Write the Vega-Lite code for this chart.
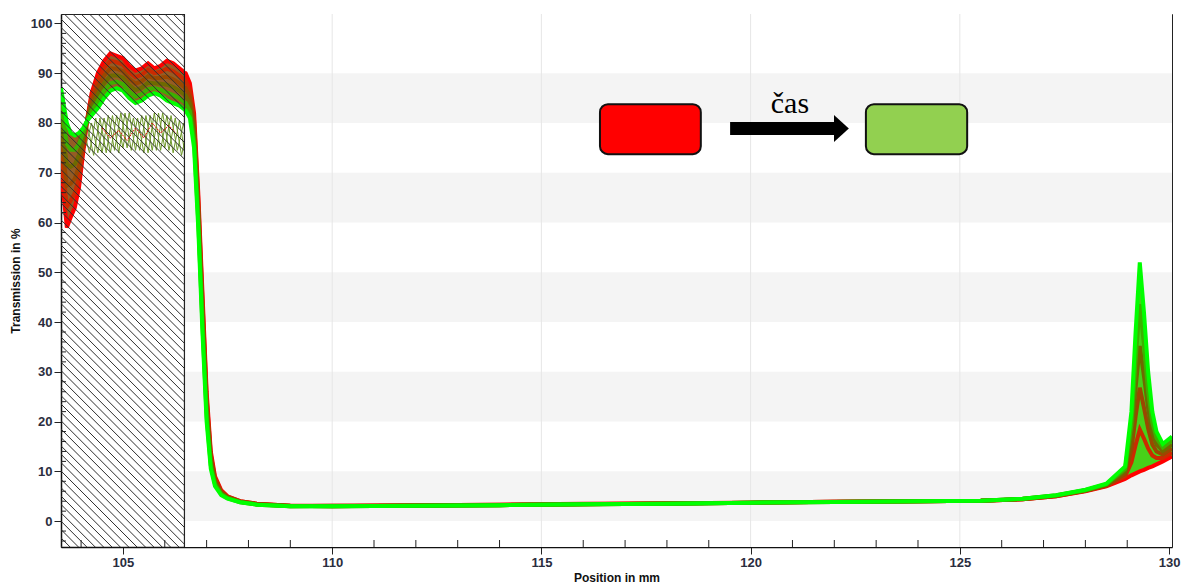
{
  "$schema": "https://vega.github.io/schema/vega-lite/v6.json",
  "width": 1111,
  "height": 533,
  "autosize": {"type": "none"},
  "padding": {"left": 61, "top": 14, "right": 10, "bottom": 38},
  "background": "white",
  "config": {"view": {"stroke": "#222", "strokeWidth": 1}},
  "datasets": {
    "curves": [
      {"x":103.52,"a0":70,"a1":73.4,"a2":76.8,"a3":80.2,"a4":83.6,"a5":87},
      {"x":103.6,"a0":64,"a1":67.8,"a2":71.6,"a3":75.4,"a4":79.2,"a5":83},
      {"x":103.66,"a0":59,"a1":63.2,"a2":67.4,"a3":71.6,"a4":75.8,"a5":80},
      {"x":103.75,"a0":61,"a1":64.4,"a2":67.8,"a3":71.2,"a4":74.6,"a5":78},
      {"x":103.85,"a0":63,"a1":65.9,"a2":68.8,"a3":71.7,"a4":74.6,"a5":77.5},
      {"x":103.95,"a0":67,"a1":69.2,"a2":71.4,"a3":73.6,"a4":75.8,"a5":78},
      {"x":104.05,"a0":74,"a1":75,"a2":76,"a3":77,"a4":78,"a5":79},
      {"x":104.15,"a0":81,"a1":80.9,"a2":80.8,"a3":80.7,"a4":80.6,"a5":80.5},
      {"x":104.25,"a0":86,"a1":85.1,"a2":84.2,"a3":83.3,"a4":82.4,"a5":81.5},
      {"x":104.4,"a0":90,"a1":88.6,"a2":87.2,"a3":85.8,"a4":84.4,"a5":83},
      {"x":104.55,"a0":92.5,"a1":91,"a2":89.5,"a3":88,"a4":86.5,"a5":85},
      {"x":104.7,"a0":94,"a1":92.5,"a2":91,"a3":89.5,"a4":88,"a5":86.5},
      {"x":104.85,"a0":93.5,"a1":92.2,"a2":90.9,"a3":89.6,"a4":88.3,"a5":87},
      {"x":105.0,"a0":93,"a1":91.7,"a2":90.4,"a3":89.1,"a4":87.8,"a5":86.5},
      {"x":105.15,"a0":91.5,"a1":90.2,"a2":88.9,"a3":87.6,"a4":86.3,"a5":85},
      {"x":105.3,"a0":90.5,"a1":89.2,"a2":87.9,"a3":86.6,"a4":85.3,"a5":84},
      {"x":105.45,"a0":91,"a1":89.7,"a2":88.4,"a3":87.1,"a4":85.8,"a5":84.5},
      {"x":105.6,"a0":92,"a1":90.7,"a2":89.4,"a3":88.1,"a4":86.8,"a5":85.5},
      {"x":105.75,"a0":91,"a1":90,"a2":89,"a3":88,"a4":87,"a5":86},
      {"x":105.9,"a0":91.5,"a1":90.3,"a2":89.1,"a3":87.9,"a4":86.7,"a5":85.5},
      {"x":106.05,"a0":92.5,"a1":90.9,"a2":89.3,"a3":87.7,"a4":86.1,"a5":84.5},
      {"x":106.2,"a0":92,"a1":90.4,"a2":88.8,"a3":87.2,"a4":85.6,"a5":84},
      {"x":106.35,"a0":91,"a1":89.5,"a2":88,"a3":86.5,"a4":85,"a5":83.5},
      {"x":106.47,"a0":90.2,"a1":88.7,"a2":87.2,"a3":85.7,"a4":84.2,"a5":82.7},
      {"x":106.5,"a0":90,"a1":88.5,"a2":87,"a3":85.5,"a4":84,"a5":82.5},
      {"x":106.6,"a0":88,"a1":86.6,"a2":85.2,"a3":83.8,"a4":82.4,"a5":81},
      {"x":106.7,"a0":82,"a1":80.6,"a2":79.2,"a3":77.8,"a4":76.4,"a5":75},
      {"x":106.8,"a0":66,"a1":64.6,"a2":63.2,"a3":61.8,"a4":60.4,"a5":59},
      {"x":106.9,"a0":46,"a1":44.4,"a2":42.8,"a3":41.2,"a4":39.6,"a5":38},
      {"x":107.0,"a0":26,"a1":24.8,"a2":23.6,"a3":22.4,"a4":21.2,"a5":20},
      {"x":107.1,"a0":14,"a1":13.3,"a2":12.6,"a3":11.9,"a4":11.2,"a5":10.5},
      {"x":107.2,"a0":9,"a1":8.6,"a2":8.2,"a3":7.8,"a4":7.4,"a5":7},
      {"x":107.35,"a0":6.2,"a1":6,"a2":5.8,"a3":5.6,"a4":5.4,"a5":5.2},
      {"x":107.5,"a0":5,"a1":4.9,"a2":4.8,"a3":4.7,"a4":4.6,"a5":4.5},
      {"x":107.8,"a0":4,"a1":4,"a2":3.9,"a3":3.9,"a4":3.8,"a5":3.8},
      {"x":108.2,"a0":3.5,"a1":3.5,"a2":3.4,"a3":3.4,"a4":3.3,"a5":3.3},
      {"x":109,"a0":3.1,"a1":3.1,"a2":3.0,"a3":3.1,"a4":3.0,"a5":3.0},
      {"x":110,"a0":3.1,"a1":3.0,"a2":3.1,"a3":3.0,"a4":3.0,"a5":3.0},
      {"x":112,"a0":3.2,"a1":3.2,"a2":3.1,"a3":3.1,"a4":3.1,"a5":3.1},
      {"x":114,"a0":3.3,"a1":3.3,"a2":3.2,"a3":3.2,"a4":3.2,"a5":3.2},
      {"x":116,"a0":3.5,"a1":3.4,"a2":3.4,"a3":3.4,"a4":3.4,"a5":3.4},
      {"x":118,"a0":3.6,"a1":3.6,"a2":3.5,"a3":3.5,"a4":3.5,"a5":3.5},
      {"x":120,"a0":3.7,"a1":3.7,"a2":3.7,"a3":3.7,"a4":3.7,"a5":3.7},
      {"x":122,"a0":3.9,"a1":3.9,"a2":3.9,"a3":3.85,"a4":3.85,"a5":3.85},
      {"x":124,"a0":4.0,"a1":4.0,"a2":4.0,"a3":4.0,"a4":4.0,"a5":4.0},
      {"x":125.5,"a0":4.1,"a1":4.1,"a2":4.1,"a3":4.1,"a4":4.1,"a5":4.1},
      {"x":126.5,"a0":4.4,"a1":4.4,"a2":4.4,"a3":4.5,"a4":4.5,"a5":4.5},
      {"x":127.3,"a0":5.0,"a1":5.0,"a2":5.1,"a3":5.1,"a4":5.2,"a5":5.2},
      {"x":128,"a0":6.0,"a1":6.1,"a2":6.1,"a3":6.2,"a4":6.2,"a5":6.3},
      {"x":128.5,"a0":7.0,"a1":7.1,"a2":7.2,"a3":7.3,"a4":7.4,"a5":7.5},
      {"x":128.95,"a0":8.5,"a1":9.0,"a2":9.5,"a3":10.0,"a4":10.5,"a5":11},
      {"x":129.1,"a0":9.2,"a1":11.8,"a2":14.4,"a3":17.0,"a4":19.4,"a5":22},
      {"x":129.2,"a0":9.6,"a1":15.3,"a2":21.0,"a3":26.8,"a4":32.4,"a5":38},
      {"x":129.3,"a0":10,"a1":18.4,"a2":26.8,"a3":35.2,"a4":43.6,"a5":52},
      {"x":129.4,"a0":10.3,"a1":16.6,"a2":22.8,"a3":29.1,"a4":35.4,"a5":42},
      {"x":129.5,"a0":10.7,"a1":14.6,"a2":18.6,"a3":22.6,"a4":26.0,"a5":30},
      {"x":129.6,"a0":11,"a1":13.2,"a2":15.4,"a3":17.6,"a4":19.8,"a5":22},
      {"x":129.7,"a0":11.4,"a1":12.7,"a2":14.0,"a3":15.4,"a4":16.7,"a5":18},
      {"x":129.85,"a0":12,"a1":12.7,"a2":13.4,"a3":14.1,"a4":14.8,"a5":15.5},
      {"x":130.07,"a0":13,"a1":13.8,"a2":14.6,"a3":15.4,"a4":16.2,"a5":17}
    ],
    "osc": [
      {"s":"A","x":103.9,"y":76},{"s":"A","x":104.05,"y":79},{"s":"A","x":104.2,"y":74},{"s":"A","x":104.35,"y":81},{"s":"A","x":104.5,"y":74},{"s":"A","x":104.65,"y":81.5},{"s":"A","x":104.8,"y":74.5},{"s":"A","x":104.95,"y":82},{"s":"A","x":105.1,"y":75},{"s":"A","x":105.25,"y":81},{"s":"A","x":105.4,"y":74.5},{"s":"A","x":105.55,"y":81.5},{"s":"A","x":105.7,"y":74.5},{"s":"A","x":105.85,"y":82},{"s":"A","x":106.0,"y":75},{"s":"A","x":106.15,"y":81.5},{"s":"A","x":106.3,"y":74.5},{"s":"A","x":106.45,"y":80},{"s":"A","x":106.6,"y":72},
      {"s":"B","x":104.0,"y":75},{"s":"B","x":104.15,"y":79.5},{"s":"B","x":104.3,"y":73.5},{"s":"B","x":104.45,"y":81},{"s":"B","x":104.6,"y":74},{"s":"B","x":104.75,"y":81.5},{"s":"B","x":104.9,"y":74},{"s":"B","x":105.05,"y":82},{"s":"B","x":105.2,"y":74.5},{"s":"B","x":105.35,"y":81},{"s":"B","x":105.5,"y":74},{"s":"B","x":105.65,"y":81.5},{"s":"B","x":105.8,"y":74.5},{"s":"B","x":105.95,"y":82},{"s":"B","x":106.1,"y":74.5},{"s":"B","x":106.25,"y":81},{"s":"B","x":106.4,"y":73.5},{"s":"B","x":106.55,"y":79},
      {"s":"C","x":103.95,"y":77},{"s":"C","x":104.1,"y":75},{"s":"C","x":104.25,"y":80},{"s":"C","x":104.4,"y":74},{"s":"C","x":104.55,"y":81},{"s":"C","x":104.7,"y":74},{"s":"C","x":104.85,"y":81.5},{"s":"C","x":105.0,"y":75},{"s":"C","x":105.15,"y":82},{"s":"C","x":105.3,"y":74.5},{"s":"C","x":105.45,"y":81.5},{"s":"C","x":105.6,"y":74},{"s":"C","x":105.75,"y":82},{"s":"C","x":105.9,"y":74.5},{"s":"C","x":106.05,"y":81.5},{"s":"C","x":106.2,"y":74},{"s":"C","x":106.35,"y":80.5},{"s":"C","x":106.5,"y":73}
    ],
    "wiggle": [
      {"x":104.5,"y":79},{"x":104.7,"y":77},{"x":104.9,"y":78.5},{"x":105.1,"y":76.5},{"x":105.3,"y":79},{"x":105.5,"y":77},{"x":105.7,"y":80},{"x":105.9,"y":78},{"x":106.1,"y":79.5},{"x":106.3,"y":77.5}
    ],
    "hatch": [
      {"h":90.8},{"h":91.0},{"h":91.2},{"h":91.4},{"h":91.6},{"h":91.8},{"h":92.0},{"h":92.2},{"h":92.4},{"h":92.6},{"h":92.8},
      {"h":93.0},{"h":93.2},{"h":93.4},{"h":93.6},{"h":93.8},{"h":94.0},{"h":94.2},{"h":94.4},{"h":94.6},{"h":94.8},
      {"h":95.0},{"h":95.2},{"h":95.4},{"h":95.6},{"h":95.8},{"h":96.0},{"h":96.2},{"h":96.4},{"h":96.6},{"h":96.8},
      {"h":97.0},{"h":97.2},{"h":97.4},{"h":97.6},{"h":97.8},{"h":98.0},{"h":98.2},{"h":98.4},{"h":98.6},{"h":98.8},
      {"h":99.0},{"h":99.2},{"h":99.4},{"h":99.6},{"h":99.8},{"h":100.0},{"h":100.2},{"h":100.4},{"h":100.6},{"h":100.8},
      {"h":101.0},{"h":101.2},{"h":101.4},{"h":101.6},{"h":101.8},{"h":102.0},{"h":102.2},{"h":102.4},{"h":102.6},{"h":102.8},
      {"h":103.0},{"h":103.2},{"h":103.4},{"h":103.6},{"h":103.8},{"h":104.0},{"h":104.2},{"h":104.4},{"h":104.6},{"h":104.8},
      {"h":105.0},{"h":105.2},{"h":105.4},{"h":105.6},{"h":105.8},{"h":106.0},{"h":106.2},{"h":106.4}
    ],
    "bands": [
      {"lo":0,"hi":10},{"lo":20,"hi":30},{"lo":40,"hi":50},{"lo":60,"hi":70},{"lo":80,"hi":90}
    ],
    "grid": [{"g":110},{"g":115},{"g":120},{"g":125}],
    "xminor": [
      {"m":104},{"m":106},{"m":107},{"m":108},{"m":109},{"m":111},{"m":112},{"m":113},{"m":114},{"m":116},{"m":117},{"m":118},{"m":119},{"m":121},{"m":122},{"m":123},{"m":124},{"m":126},{"m":127},{"m":128},{"m":129}
    ],
    "yminor": [
      {"m":-4},{"m":-2},{"m":2},{"m":4},{"m":6},{"m":8},{"m":12},{"m":14},{"m":16},{"m":18},{"m":22},{"m":24},{"m":26},{"m":28},{"m":32},{"m":34},{"m":36},{"m":38},{"m":42},{"m":44},{"m":46},{"m":48},{"m":52},{"m":54},{"m":56},{"m":58},{"m":62},{"m":64},{"m":66},{"m":68},{"m":72},{"m":74},{"m":76},{"m":78},{"m":82},{"m":84},{"m":86},{"m":88},{"m":92},{"m":94},{"m":96},{"m":98}
    ]
  },
  "layer": [
    {
      "data": {"name": "curves"},
      "transform": [{"fold": ["a0", "a1", "a2", "a3", "a4", "a5"], "as": ["run", "y"]}],
      "mark": {"type": "line", "strokeWidth": 0, "opacity": 0},
      "encoding": {
        "x": {
          "field": "x", "type": "quantitative",
          "scale": {"domain": [103.52, 130.07], "nice": false, "zero": false},
          "axis": {
            "values": [105, 110, 115, 120, 125, 130], "title": "Position in mm", "grid": false,
            "tickSize": 7, "tickColor": "#222", "domainColor": "#111", "domainWidth": 1.5,
            "labelFont": "Liberation Sans", "labelFontSize": 13, "labelFontWeight": "bold", "labelColor": "#2a2d3e",
            "labelPadding": 2, "labelFlush": false,
            "titleFont": "Liberation Sans", "titleFontSize": 12, "titleFontWeight": "bold", "titleColor": "#111", "titlePadding": 3
          }
        },
        "y": {
          "field": "y", "type": "quantitative",
          "scale": {"domain": [-5.2, 101.9], "nice": false, "zero": false},
          "axis": {
            "values": [0, 10, 20, 30, 40, 50, 60, 70, 80, 90, 100], "title": "Transmission in %", "grid": false,
            "tickSize": 7, "tickColor": "#222", "domainColor": "#111", "domainWidth": 1.5,
            "labelFont": "Liberation Sans", "labelFontSize": 13, "labelFontWeight": "bold", "labelColor": "#2a2d3e",
            "labelPadding": 2, "labelFlush": false,
            "titleFont": "Liberation Sans", "titleFontSize": 12, "titleFontWeight": "bold", "titleColor": "#111", "titlePadding": 8
          }
        },
        "detail": {"field": "run"}
      }
    },
    {
      "data": {"name": "osc"},
      "mark": {"type": "line", "color": "#6f9a2a", "strokeWidth": 1},
      "encoding": {
        "x": {"field": "x", "type": "quantitative"},
        "y": {"field": "y", "type": "quantitative"},
        "detail": {"field": "s"}
      }
    },
    {
      "data": {"name": "curves"},
      "transform": [{"filter": "datum.x <= 106.9"}],
      "mark": {"type": "area", "color": "#8a4a0c", "opacity": 0.9},
      "encoding": {
        "x": {"field": "x", "type": "quantitative"},
        "y": {"field": "a0", "type": "quantitative"},
        "y2": {"field": "a5"}
      }
    },
    {
      "data": {"name": "wiggle"},
      "mark": {"type": "line", "color": "#e00000", "strokeWidth": 1, "strokeDash": [2, 1]},
      "encoding": {
        "x": {"field": "x", "type": "quantitative"},
        "y": {"field": "y", "type": "quantitative"}
      }
    },
    {
      "data": {"name": "curves"},
      "transform": [{"fold": ["a0", "a1", "a2", "a3", "a4", "a5"], "as": ["run", "y"]}],
      "mark": {"type": "line", "strokeWidth": 4, "clip": true},
      "encoding": {
        "x": {"field": "x", "type": "quantitative"},
        "y": {"field": "y", "type": "quantitative"},
        "color": {
          "field": "run", "type": "nominal",
          "scale": {"domain": ["a0", "a1", "a2", "a3", "a4", "a5"], "range": ["#ff0000", "#cc2a00", "#9a4800", "#6e6a00", "#3cb000", "#00ff00"]},
          "legend": null
        }
      }
    },
    {
      "data": {"name": "hatch"},
      "mark": {"type": "rule", "clip": true, "color": "#2e2e2e", "strokeWidth": 1, "x2Offset": 533},
      "encoding": {
        "x": {"field": "h", "type": "quantitative"},
        "x2": {"field": "h"},
        "y": {"datum": 101.9, "type": "quantitative"},
        "y2": {"datum": -5.2}
      }
    },
    {
      "data": {"values": [{}]},
      "mark": {"type": "rect", "clip": true, "color": "white"},
      "encoding": {
        "x": {"datum": 106.47, "type": "quantitative"},
        "x2": {"datum": 131},
        "y": {"datum": -10, "type": "quantitative"},
        "y2": {"datum": 110}
      }
    },
    {
      "data": {"name": "bands"},
      "mark": {"type": "rect", "clip": true, "color": "#f4f4f4"},
      "encoding": {
        "x": {"datum": 106.47, "type": "quantitative"},
        "x2": {"datum": 131},
        "y": {"field": "lo", "type": "quantitative"},
        "y2": {"field": "hi"}
      }
    },
    {
      "data": {"name": "grid"},
      "mark": {"type": "rule", "color": "#e6e6e6", "strokeWidth": 1},
      "encoding": {
        "x": {"field": "g", "type": "quantitative"},
        "y": {"datum": -5.2, "type": "quantitative"},
        "y2": {"datum": 101.9}
      }
    },
    {
      "data": {"name": "curves"},
      "transform": [{"filter": "datum.x >= 106.47 && datum.x <= 106.9"}],
      "mark": {"type": "area", "color": "#8a4a0c", "opacity": 0.9},
      "encoding": {
        "x": {"field": "x", "type": "quantitative"},
        "y": {"field": "a0", "type": "quantitative"},
        "y2": {"field": "a5"}
      }
    },
    {
      "data": {"name": "curves"},
      "transform": [{"filter": "datum.x >= 128.5"}],
      "mark": {"type": "area", "color": "#33cc00", "opacity": 0.9},
      "encoding": {
        "x": {"field": "x", "type": "quantitative"},
        "y": {"field": "a0", "type": "quantitative"},
        "y2": {"field": "a5"}
      }
    },
    {
      "data": {"name": "curves"},
      "transform": [{"filter": "datum.x >= 106.47"}, {"fold": ["a0", "a1", "a2", "a3", "a4", "a5"], "as": ["run", "y"]}],
      "mark": {"type": "line", "strokeWidth": 4, "clip": true},
      "encoding": {
        "x": {"field": "x", "type": "quantitative"},
        "y": {"field": "y", "type": "quantitative"},
        "color": {"field": "run", "type": "nominal", "legend": null}
      }
    },
    {
      "data": {"values": [{}]},
      "mark": {"type": "rule", "color": "#222", "strokeWidth": 1.2},
      "encoding": {
        "x": {"datum": 106.47, "type": "quantitative"},
        "y": {"datum": -5.2, "type": "quantitative"},
        "y2": {"datum": 101.9}
      }
    },
    {
      "data": {"name": "xminor"},
      "mark": {"type": "rule", "color": "#222", "strokeWidth": 1, "y2Offset": -7},
      "encoding": {
        "x": {"field": "m", "type": "quantitative"},
        "y": {"datum": -5.2, "type": "quantitative"},
        "y2": {"datum": -5.2}
      }
    },
    {
      "data": {"name": "yminor"},
      "mark": {"type": "rule", "color": "#222", "strokeWidth": 1, "x2Offset": 5},
      "encoding": {
        "y": {"field": "m", "type": "quantitative"},
        "x": {"datum": 103.52, "type": "quantitative"},
        "x2": {"datum": 103.52}
      }
    },
    {
      "data": {"values": [{}]},
      "mark": {"type": "rect", "fill": "#ff0000", "stroke": "#111", "strokeWidth": 2, "cornerRadius": 8},
      "encoding": {
        "x": {"datum": 116.4, "type": "quantitative"},
        "x2": {"datum": 118.81},
        "y": {"datum": 73.74, "type": "quantitative"},
        "y2": {"datum": 83.79}
      }
    },
    {
      "data": {"values": [{}]},
      "mark": {"type": "rect", "fill": "#92d050", "stroke": "#111", "strokeWidth": 2, "cornerRadius": 8},
      "encoding": {
        "x": {"datum": 122.755, "type": "quantitative"},
        "x2": {"datum": 125.175},
        "y": {"datum": 73.74, "type": "quantitative"},
        "y2": {"datum": 83.79}
      }
    },
    {
      "data": {"values": [{}]},
      "mark": {"type": "rect", "fill": "#000000"},
      "encoding": {
        "x": {"datum": 119.51, "type": "quantitative"},
        "x2": {"datum": 122.06},
        "y": {"datum": 77.6, "type": "quantitative"},
        "y2": {"datum": 80.2}
      }
    },
    {
      "data": {"values": [{}]},
      "mark": {"type": "point", "shape": "M-0.55,-1L0.55,0L-0.55,1Z", "size": 729, "filled": true, "color": "#000000", "opacity": 1},
      "encoding": {
        "x": {"datum": 122.17, "type": "quantitative"},
        "y": {"datum": 78.9, "type": "quantitative"}
      }
    },
    {
      "data": {"values": [{"label": "čas"}]},
      "mark": {"type": "text", "font": "Liberation Serif", "fontSize": 30, "color": "#000000", "align": "center", "baseline": "alphabetic"},
      "encoding": {
        "x": {"datum": 120.94, "type": "quantitative"},
        "y": {"datum": 82.1, "type": "quantitative"},
        "text": {"field": "label"}
      }
    }
  ]
}
